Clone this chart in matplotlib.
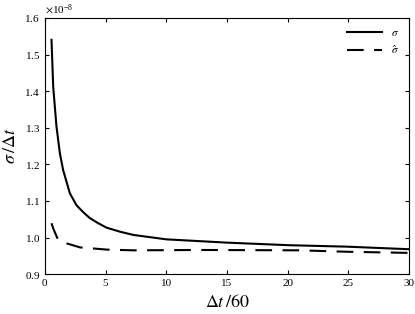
import numpy as np
import matplotlib.pyplot as plt

plt.rcParams['font.family'] = 'Liberation Serif'
plt.rcParams['mathtext.fontset'] = 'stix'

# values (y in units of 1e-8)
x_sigma = [0.55, 0.69, 0.96, 1.24, 1.51, 2.06, 2.61, 3.2, 3.71, 4.4, 5.08, 6.18, 7.3,
           10.0, 12.8, 15.0, 20.1, 24.9, 30.0]
sigma = [1.54, 1.412, 1.303, 1.230, 1.184, 1.121, 1.088, 1.068, 1.053, 1.039, 1.027, 1.016, 1.007,
         0.995, 0.990, 0.986, 0.979, 0.975, 0.968]

x_hat = [0.55, 0.69, 1.1, 1.8, 2.9, 5.1, 7.3, 12.8, 21.0, 25.0, 30.0]
sigma_hat = [1.039, 1.025, 0.993, 0.984, 0.973, 0.967, 0.965, 0.966, 0.965, 0.961, 0.958]

fig = plt.figure(figsize=(4.15, 3.14), dpi=100)
ax = fig.add_axes([0.108, 0.127, 0.878, 0.816])

ax.plot(x_sigma, np.array(sigma) * 1e-8, color='black', lw=1.5, label=r'$\sigma$')
ax.plot(x_hat, np.array(sigma_hat) * 1e-8, color='black', lw=1.5, ls=(0, (8, 5)), label=r'$\hat{\sigma}$')

ax.set_xlim(0, 30)
ax.set_ylim(0.9e-8, 1.6e-8)
ax.set_xticks([0, 5, 10, 15, 20, 25, 30])
ax.set_yticks(np.arange(0.9, 1.61, 0.1) * 1e-8)
ax.ticklabel_format(axis='y', useMathText=True)
ax.tick_params(direction='in', top=True, right=True, labelsize=8, length=3)
ax.yaxis.get_offset_text().set_fontsize(8)

ax.set_xlabel(r'$\Delta t\,/60$', fontsize=13)
ax.set_ylabel(r'$\sigma\,/\Delta t$', fontsize=13)

ax.legend(loc='upper right', frameon=False, fontsize=8, handlelength=3.2)

fig.savefig('out.png', dpi=100)
